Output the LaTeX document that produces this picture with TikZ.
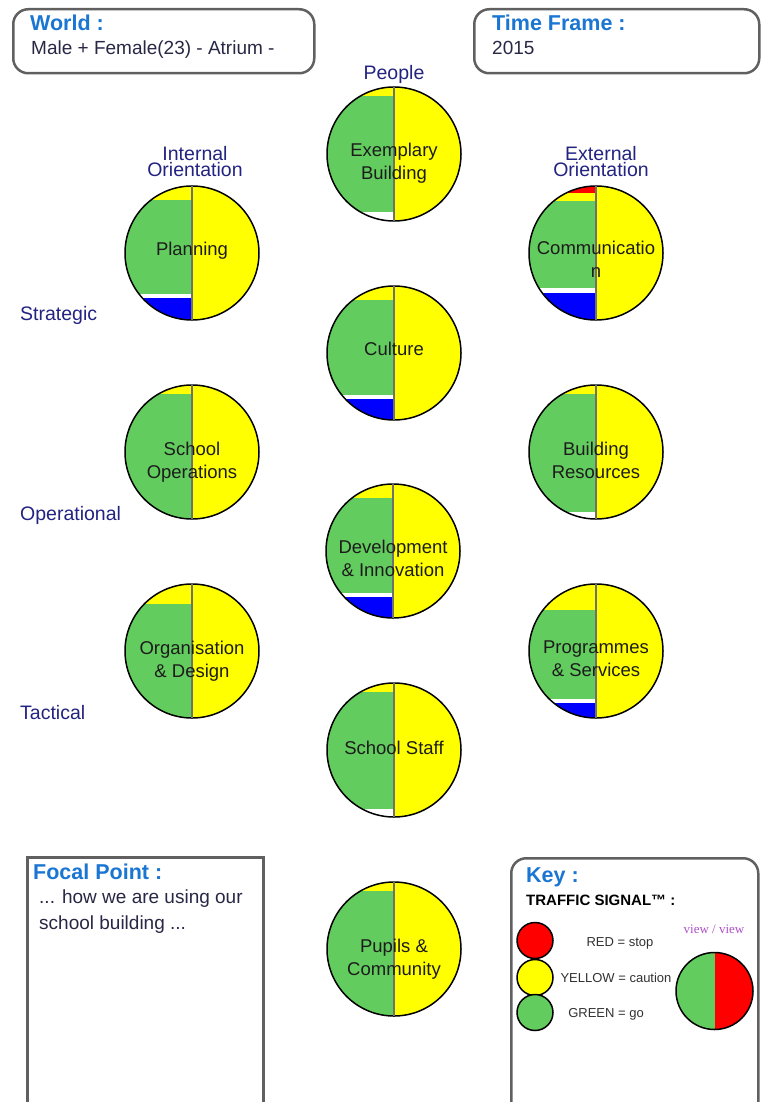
\documentclass[tikz,border=0pt]{standalone}
\usepackage{fontspec}
\setmainfont{Liberation Sans}
\newfontfamily\viewfont{Liberation Serif}

\definecolor{siggreen}{RGB}{99,204,94}
\definecolor{sigyellow}{RGB}{255,255,0}
\definecolor{sigblue}{RGB}{0,0,255}
\definecolor{sigred}{RGB}{255,0,0}
\definecolor{headblue}{RGB}{26,118,210}
\definecolor{navy}{RGB}{35,35,130}
\definecolor{bodyink}{RGB}{40,40,70}
\definecolor{pieink}{RGB}{28,28,28}
\definecolor{keyink}{RGB}{50,50,50}
\definecolor{boxgray}{RGB}{96,96,96}
\definecolor{dividergray}{RGB}{112,112,112}
\definecolor{viewpurple}{RGB}{175,80,200}

\begin{document}
\begin{tikzpicture}[x=1pt, y=-1pt,
    pie/.style={circle, draw=black, line width=1.5pt, minimum size=134pt, inner sep=0pt, outer sep=0pt},
    divider/.style={draw=dividergray, line width=1.5pt},
    pietext/.style={anchor=base, align=center, inner sep=0pt, text=pieink, font=\fontsize{18.5}{22.5}\selectfont},
    navylabel/.style={anchor=base west, inner sep=0pt, text=navy, font=\fontsize{19.5}{16}\selectfont},
    panel/.style={draw=boxgray, line width=2.5pt, rounded corners=15pt, anchor=north west, inner sep=0pt},
    heading/.style={anchor=base west, inner sep=0pt, text=headblue, font=\fontsize{21.5}{26}\selectfont\bfseries},
    body/.style={anchor=base west, align=left, inner sep=0pt, text=bodyink, font=\fontsize{19}{26}\selectfont},
    lamp/.style={circle, draw=black, line width=1.5pt, minimum size=36pt, inner sep=0pt},
    keytext/.style={anchor=base, inner sep=0pt, text=keyink, font=\fontsize{13}{15}\selectfont},
    pics/halves/.style n args={4}{code={
        \begin{scope}
            \clip (0,0) circle (67pt);
            \fill[sigyellow] (-67,-67) rectangle (67,67);
            \fill[siggreen] (-67,#1) rectangle (0,#2);
            \fill[white] (-67,#2) rectangle (0,67);
            \fill[sigblue] (-67,#3) rectangle (0,67);
            \fill[sigred] (-67,-67) rectangle (0,#4);
        \end{scope}
    }}]

    % Page
    \fill[white] (0,0) rectangle (760,1102);
    \useasboundingbox (0,0) rectangle (760,1102);

    % Header boxes
    \node[panel, minimum width=301pt, minimum height=64pt] (world) at (12,8) {};
    \node[heading] (worldhead) at (30,31) {World :};
    \node[body] (worldtext) at (31,55) {Male + Female(23) - Atrium -};

    \node[panel, minimum width=285pt, minimum height=64pt] (timeframe) at (473,8) {};
    \node[heading] (timehead) at (492,31) {Time Frame :};
    \node[body] (timetext) at (492,55) {2015};

    % Column and row labels (multi-line nodes sit on their last baseline)
    \node[navylabel, anchor=base] (people) at (394,80) {People};
    \node[navylabel, anchor=base, align=center] (internal) at (195,176) {Internal\\Orientation};
    \node[navylabel, anchor=base, align=center] (external) at (601,176) {External\\Orientation};
    \node[navylabel] (strategic) at (20,320) {Strategic};
    \node[navylabel] (operational) at (20,520) {Operational};
    \node[navylabel] (tactical) at (20,719) {Tactical};

    % Signal fills for each area
    \pic at (394,154) {halves={-58}{58}{80}{-80}};
    \pic at (192,253) {halves={-53}{41}{45}{-80}};
    \pic at (596,253) {halves={-52}{35}{40}{-60}};
    \pic at (394,353) {halves={-53}{42}{46}{-80}};
    \pic at (192,452) {halves={-58}{67}{80}{-80}};
    \pic at (596,452) {halves={-58}{60}{80}{-80}};
    \pic at (393,551) {halves={-53}{42}{46}{-80}};
    \pic at (192,651) {halves={-47}{67}{80}{-80}};
    \pic at (596,651) {halves={-41}{48}{52}{-80}};
    \pic at (394,750) {halves={-58}{59}{80}{-80}};
    \pic at (394,949) {halves={-58}{67}{80}{-80}};

    % Circle outlines
    \node[pie] (exemplary) at (394,154) {};
    \node[pie] (planning) at (192,253) {};
    \node[pie] (communication) at (596,253) {};
    \node[pie] (culture) at (394,353) {};
    \node[pie] (schoolops) at (192,452) {};
    \node[pie] (resources) at (596,452) {};
    \node[pie] (development) at (393,551) {};
    \node[pie] (organisation) at (192,651) {};
    \node[pie] (programmes) at (596,651) {};
    \node[pie] (staff) at (394,750) {};
    \node[pie] (pupils) at (394,949) {};

    % Dividers between the two views
    \foreach \p in {exemplary, planning, communication, culture, schoolops, resources,
                    development, organisation, programmes, staff, pupils}
        \draw[divider] (\p.north) -- (\p.south);

    % Area names
    \node[pietext] (exemplarytext) at (394,179) {Exemplary\\Building};
    \node[pietext] (planningtext) at (192,255) {Planning};
    \node[pietext] (communicationtext) at (596,277) {Communicatio\\n};
    \node[pietext] (culturetext) at (394,355) {Culture};
    \node[pietext] (schoolopstext) at (192,478) {School\\Operations};
    \node[pietext] (resourcestext) at (596,478) {Building\\Resources};
    \node[pietext] (developmenttext) at (393,576) {Development\\\& Innovation};
    \node[pietext] (organisationtext) at (192,677) {Organisation\\\& Design};
    \node[pietext] (programmestext) at (596,676) {Programmes\\\& Services};
    \node[pietext] (stafftext) at (394,754) {School Staff};
    \node[pietext] (pupilstext) at (394,975) {Pupils \&\\Community};

    % Focal point box
    \node[panel, rounded corners=0pt, minimum width=236pt, minimum height=280pt] (focal) at (26,856) {};
    \node[heading] (focalhead) at (33,879) {Focal Point :};
    \node[body] (focaltext) at (39,929) {... how we are using our\\school building ...};

    % Key box
    \node[panel, minimum width=247pt, minimum height=280pt] (key) at (510,857) {};
    \node[heading] (keyhead) at (526,882) {Key :};
    \node[anchor=base west, inner sep=0pt, font=\fontsize{15}{18}\selectfont\bfseries] (signaltitle) at (526,905) {TRAFFIC SIGNAL™ :};

    \node[lamp, fill=sigred] (redlamp) at (535,940.5) {};
    \node[lamp, fill=sigyellow] (yellowlamp) at (535,977.5) {};
    \node[lamp, fill=siggreen] (greenlamp) at (535,1012.5) {};
    \node[keytext] (redtext) at (620,946.5) {RED = stop};
    \node[keytext] (yellowtext) at (616,982.5) {YELLOW = caution};
    \node[keytext] (greentext) at (606,1017.5) {GREEN = go};

    \node[anchor=base, inner sep=0pt, text=viewpurple, font=\viewfont\fontsize{13}{15}\selectfont] (viewtext) at (714,933) {view / view};
    \begin{scope}
        \clip (714.5,991) circle (38.5pt);
        \fill[siggreen] (675,952) rectangle (714.5,1030);
        \fill[sigred] (714.5,952) rectangle (754,1030);
    \end{scope}
    \node[circle, draw=black, line width=1.5pt, minimum size=77pt, inner sep=0pt] (viewpie) at (714.5,991) {};

\end{tikzpicture}
\end{document}
